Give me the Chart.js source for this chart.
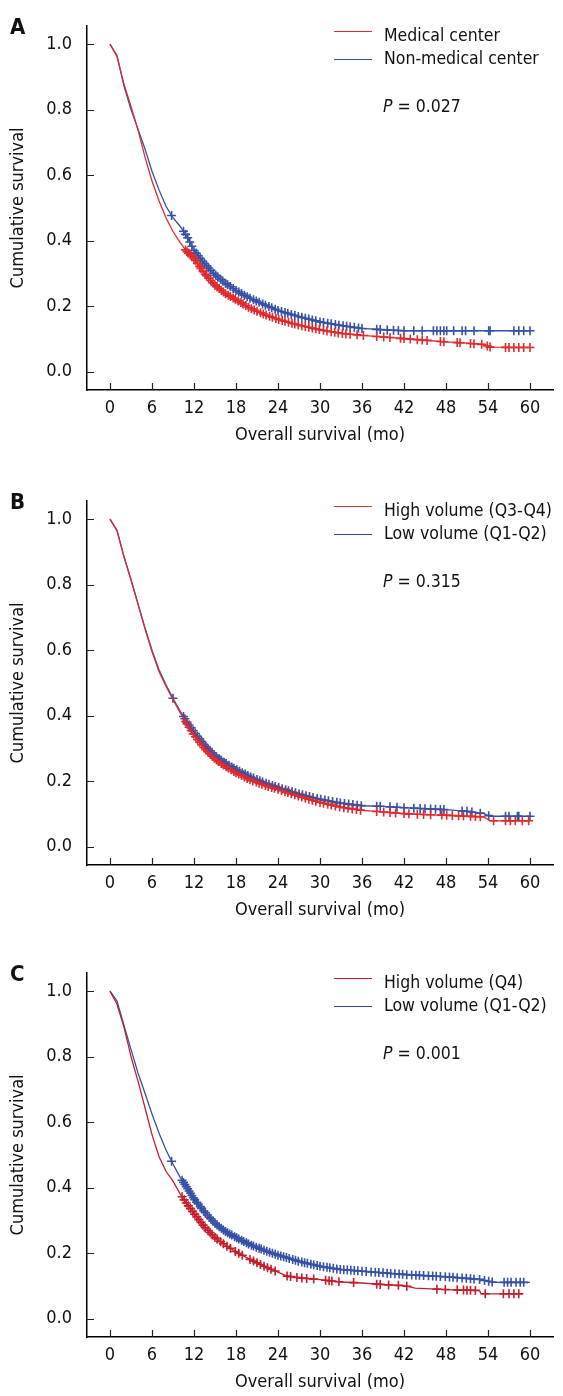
<!DOCTYPE html>
<html>
<head>
<meta charset="utf-8">
<script src="https://cdn.jsdelivr.net/npm/chart.js@4.4.1/dist/chart.umd.min.js"></script>
<style>
body { margin: 0; background: #fff; width: 563px; height: 1396px; overflow: hidden;
       font-family: "DejaVu Sans Condensed", "DejaVu Sans", sans-serif; color: #111; }
.panel { position: absolute; left: 0; width: 563px; }
.panel canvas { position: absolute; left: 0; top: 0; }
.letter { position: absolute; left: 10px; top: 16px; font-size: 22px; line-height: 22px; font-weight: bold; }
.key { position: absolute; left: 334px; width: 38px; height: 0; border-top: 1px solid; }
.lab { position: absolute; left: 384px; font-size: 17.5px; line-height: 20px; white-space: nowrap; }
</style>
</head>
<body>

<div class="panel" id="pA" style="top:0;height:475px">
  <canvas id="cA" width="563" height="475"></canvas>
  <div class="letter">A</div>
  <div class="key" style="top:31px;border-color:#e02a2e"></div>
  <div class="key" style="top:59px;border-color:#3651a5"></div>
  <div class="lab" style="top:25px">Medical center</div>
  <div class="lab" style="top:48px">Non-medical center</div>
  <div class="lab" style="top:96px;left:383px"><i>P</i> = 0.027</div>
</div>

<div class="panel" id="pB" style="top:475px;height:472px">
  <canvas id="cB" width="563" height="472"></canvas>
  <div class="letter">B</div>
  <div class="key" style="top:31px;border-color:#e02a2e"></div>
  <div class="key" style="top:59px;border-color:#3651a5"></div>
  <div class="lab" style="top:25px">High volume (Q3-Q4)</div>
  <div class="lab" style="top:48px">Low volume (Q1-Q2)</div>
  <div class="lab" style="top:96px;left:383px"><i>P</i> = 0.315</div>
</div>

<div class="panel" id="pC" style="top:947px;height:449px">
  <canvas id="cC" width="563" height="449"></canvas>
  <div class="letter">C</div>
  <div class="key" style="top:31px;border-color:#c41e2c"></div>
  <div class="key" style="top:59px;border-color:#3651a5"></div>
  <div class="lab" style="top:25px">High volume (Q4)</div>
  <div class="lab" style="top:48px">Low volume (Q1-Q2)</div>
  <div class="lab" style="top:96px;left:383px"><i>P</i> = 0.001</div>
</div>

<script>
// axis ticks
var xTicks = [0, 6, 12, 18, 24, 30, 36, 42, 48, 54, 60];
var yTicks = [0, 0.2, 0.4, 0.6, 0.8, 1.0];

// panel A: medical vs non-medical center
var timeA = [0, 1, 2, 3, 4, 5, 6, 7, 8, 9, 10, 11, 12, 13.5, 15, 16.5, 18, 20, 22, 24, 27, 30, 33, 36, 39, 42, 45, 48, 51, 53.4, 54.3, 57, 60];
var medicalA = [1.0, .962, .878, .81, .738, .655, .582, .522, .47, .428, .395, .366, .346, .30, .264, .238, .22, .194, .175, .16, .142, .128, .117, .111, .106, .101, .096, .091, .087, .083, .075, .074, .074];
var nonMedicalA = [1.0, .965, .872, .80, .74, .68, .612, .555, .505, .47, .444, .413, .37, .33, .296, .27, .248, .224, .205, .187, .168, .152, .141, .132, .128, .125, .125, .125, .125, .125, .125, .125, .125];
var medicalCensA = [10.8, 11.0, 11.2, 11.5, 11.7, 12.0, 12.2, 12.5, 12.8, 13.0, 13.3, 13.6, 13.8, 14.1, 14.4, 14.7, 15.0, 15.3, 15.6, 15.9, 16.2, 16.5, 16.9, 17.2, 17.6, 17.9, 18.3, 18.7, 19.0, 19.4, 19.8, 20.2, 20.6, 21.0, 21.5, 21.9, 22.3, 22.8, 23.2, 23.7, 24.1, 24.6, 25.0, 25.5, 26.0, 26.4, 26.9, 27.4, 27.9, 28.4, 28.9, 29.4, 29.9, 30.5, 31.0, 31.6, 32.1, 32.6, 33.2, 33.7, 34.3, 35.3, 36.2, 38.1, 39.1, 40.0, 41.5, 42.0, 42.9, 43.9, 44.6, 45.3, 47.2, 47.7, 49.6, 50.0, 51.5, 52.0, 53.1, 53.9, 54.3, 56.5, 57.0, 57.7, 58.4, 59.1, 60.0];
var nonMedicalCensA = [8.8, 10.5, 10.8, 11.1, 11.4, 11.7, 12.0, 12.3, 12.6, 12.9, 13.2, 13.5, 13.8, 14.1, 14.4, 14.8, 15.1, 15.4, 15.8, 16.1, 16.5, 16.8, 17.2, 17.6, 18.0, 18.4, 18.8, 19.2, 19.6, 20.0, 20.5, 20.9, 21.3, 21.8, 22.2, 22.7, 23.1, 23.6, 24.0, 24.5, 25.0, 25.4, 25.9, 26.4, 26.9, 27.4, 27.9, 28.4, 28.9, 29.4, 30.0, 30.5, 31.1, 31.6, 32.2, 32.7, 33.3, 33.8, 34.3, 34.9, 35.5, 36.0, 38.1, 38.6, 39.6, 40.5, 41.2, 42.0, 43.4, 44.6, 46.2, 46.7, 47.2, 47.7, 48.1, 49.1, 50.3, 50.8, 52.0, 54.1, 54.3, 57.7, 58.4, 59.1, 60.0];

// panel B: high (Q3-Q4) vs low (Q1-Q2) volume
var timeB = [0, 1, 2, 3, 4, 5, 6, 7, 8, 9, 10, 11, 12, 13.5, 15, 16.5, 18, 20, 22, 24, 27, 30, 33, 36, 39, 42, 45, 48, 51, 53.4, 54.3, 57, 60];
var highB = [1.0, .965, .885, .815, .74, .665, .595, .535, .49, .449, .41, .375, .341, .30, .268, .245, .226, .204, .188, .175, .154, .135, .12, .111, .106, .101, .098, .096, .093, .091, .079, .079, .079];
var lowB = [1.0, .965, .885, .815, .742, .668, .60, .54, .494, .453, .415, .38, .351, .31, .278, .255, .236, .214, .196, .181, .161, .145, .133, .125, .123, .119, .116, .113, .108, .101, .093, .093, .093];
var highCensB = [10.8, 11.0, 11.3, 11.6, 11.9, 12.2, 12.5, 12.8, 13.1, 13.4, 13.7, 14.0, 14.3, 14.6, 14.9, 15.2, 15.5, 15.9, 16.2, 16.6, 16.9, 17.3, 17.7, 18.0, 18.4, 18.8, 19.2, 19.6, 20.0, 20.4, 20.9, 21.3, 21.7, 22.2, 22.6, 23.1, 23.5, 24.0, 24.5, 25.0, 25.4, 25.9, 26.4, 26.9, 27.4, 27.9, 28.4, 28.9, 29.4, 30.0, 30.5, 31.1, 31.6, 32.2, 32.8, 33.4, 34.0, 34.6, 35.2, 35.8, 38.1, 39.1, 40.0, 40.8, 42.0, 42.7, 43.9, 44.8, 45.8, 47.4, 48.1, 48.9, 49.8, 50.5, 51.5, 52.2, 52.9, 54.8, 56.5, 57.2, 57.9, 58.9, 59.8];
var lowCensB = [9.0, 10.5, 10.7, 11.0, 11.3, 11.6, 11.9, 12.2, 12.5, 12.8, 13.1, 13.4, 13.7, 14.0, 14.3, 14.6, 14.9, 15.2, 15.6, 15.9, 16.3, 16.6, 17.0, 17.4, 17.7, 18.1, 18.5, 18.9, 19.3, 19.7, 20.1, 20.5, 21.0, 21.4, 21.8, 22.3, 22.7, 23.2, 23.6, 24.1, 24.6, 25.1, 25.5, 26.0, 26.5, 27.0, 27.5, 28.0, 28.5, 29.0, 29.6, 30.1, 30.7, 31.2, 31.8, 32.4, 32.9, 33.5, 34.1, 34.7, 35.3, 35.9, 38.1, 38.6, 40.0, 41.0, 42.0, 43.4, 44.3, 45.0, 45.8, 46.5, 47.2, 47.7, 50.3, 51.0, 51.7, 52.9, 54.1, 56.5, 57.0, 58.2, 58.4, 60.0];

// panel C: high (Q4) vs low (Q1-Q2) volume
var timeC = [0, 1, 2, 3, 4, 5, 6, 7, 8, 9, 10, 11, 12, 13.5, 15, 16.5, 18, 20, 22, 24, 25.3, 27, 30, 33, 36, 39, 42, 43.6, 48, 52.8, 53, 54.8, 57, 59, 60];
var highC = [1.0, .96, .89, .80, .725, .644, .562, .495, .45, .42, .382, .35, .322, .28, .248, .224, .204, .181, .16, .142, .13, .125, .119, .112, .109, .104, .101, .093, .089, .086, .076, .076, .076, .076, null];
var lowC = [1.0, .97, .895, .822, .75, .688, .625, .567, .515, .472, .432, .40, .366, .326, .291, .266, .248, .226, .209, .194, .186, .175, .16, .15, .145, .14, .135, .133, .128, .12, .119, .111, .111, .111, .111];
var highCensC = [10.3, 10.6, 10.9, 11.2, 11.5, 11.8, 12.1, 12.4, 12.7, 13.0, 13.3, 13.6, 14.0, 14.3, 14.6, 15.0, 15.3, 15.8, 16.2, 16.7, 17.2, 17.9, 18.4, 18.9, 20.0, 20.5, 21.0, 21.5, 22.0, 22.5, 23.0, 23.6, 25.3, 25.8, 26.7, 27.4, 28.1, 29.1, 30.8, 31.3, 31.7, 32.7, 34.8, 38.1, 38.6, 39.8, 41.2, 42.4, 46.7, 47.9, 49.6, 50.5, 51.0, 51.5, 52.2, 53.6, 56.2, 57.0, 57.7, 58.4];
var lowCensC = [8.8, 10.3, 10.5, 10.7, 10.9, 11.1, 11.3, 11.5, 11.7, 11.9, 12.1, 12.4, 12.6, 12.9, 13.1, 13.4, 13.6, 13.9, 14.2, 14.4, 14.7, 15.0, 15.3, 15.6, 15.9, 16.2, 16.5, 16.8, 17.1, 17.4, 17.8, 18.1, 18.4, 18.8, 19.1, 19.5, 19.8, 20.2, 20.5, 20.9, 21.3, 21.6, 22.0, 22.4, 22.8, 23.2, 23.6, 24.0, 24.4, 24.8, 25.2, 25.6, 26.1, 26.5, 26.9, 27.4, 27.8, 28.2, 28.7, 29.1, 29.6, 30.0, 30.5, 31.0, 31.4, 31.9, 32.4, 32.9, 33.4, 33.9, 34.4, 34.9, 35.4, 36.0, 36.6, 37.3, 37.9, 38.4, 39.0, 39.6, 40.1, 40.7, 41.3, 41.8, 42.4, 43.1, 43.7, 44.2, 44.8, 45.5, 46.1, 46.6, 47.2, 47.9, 48.5, 49.0, 49.6, 50.3, 50.9, 51.5, 52.0, 52.8, 53.5, 54.1, 54.6, 56.3, 56.8, 57.3, 58.0, 58.6, 59.1];

var FONT = "'DejaVu Sans Condensed', 'DejaVu Sans', sans-serif";
var RED = '#e02a2e', DARKRED = '#c41e2c', BLUE = '#3651a5';

// t=0 at 110px, t=60 at 530px ; axis from 87 to 553
var X_MIN = -23 / 7, X_MAX = 443 / 7;
// S=1 at 31px, S=0 at 371px ; axis from 12 to 390
var Y_MIN = -19 / 340, Y_MAX = 359 / 340;

function curvePoints(times, vals) {
    var pts = [];
    for (var i = 0; i < times.length; i++) {
        if (vals[i] !== null) pts.push({x: times[i], y: vals[i]});
    }
    return pts;
}

// place each censor mark on its curve
function censorPoints(cens, times, vals) {
    var pts = curvePoints(times, vals);
    return cens.map(function (t) {
        for (var i = 1; i < pts.length; i++) {
            if (t <= pts[i].x) {
                var a = pts[i - 1], b = pts[i];
                return {x: t, y: a.y + (b.y - a.y) * (t - a.x) / (b.x - a.x)};
            }
        }
        return {x: t, y: pts[pts.length - 1].y};
    });
}

var innerTicks = {
    id: 'innerTicks',
    afterDatasetsDraw: function (chart) {
        var ctx = chart.ctx, area = chart.chartArea;
        var x = chart.scales.x, y = chart.scales.y;
        ctx.save();
        ctx.strokeStyle = '#222';
        ctx.lineWidth = 1.2;
        ctx.beginPath();
        xTicks.forEach(function (v) {
            var px = Math.round(x.getPixelForValue(v)) + 0.5;
            ctx.moveTo(px, area.bottom);
            ctx.lineTo(px, area.bottom - 7);
        });
        yTicks.forEach(function (v) {
            var py = Math.round(y.getPixelForValue(v)) + 0.5;
            ctx.moveTo(area.left, py);
            ctx.lineTo(area.left + 7, py);
        });
        ctx.stroke();
        ctx.restore();
    }
};

function drawPanel(id, height, times, redVals, blueVals, redCens, blueCens, redColor) {
    var ds = [
        {data: curvePoints(times, redVals), borderColor: redColor, borderWidth: 1.3, showLine: true, pointRadius: 0, tension: 0},
        {data: curvePoints(times, blueVals), borderColor: BLUE, borderWidth: 1.3, showLine: true, pointRadius: 0, tension: 0},
        {data: censorPoints(redCens, times, redVals), borderColor: redColor, pointStyle: 'cross', pointRadius: 4.5, pointBorderWidth: 1.6, showLine: false},
        {data: censorPoints(blueCens, times, blueVals), borderColor: BLUE, pointStyle: 'cross', pointRadius: 4.5, pointBorderWidth: 1.6, showLine: false}
    ];
    new Chart(document.getElementById(id), {
        type: 'scatter',
        data: {datasets: ds},
        options: {
            responsive: false,
            animation: false,
            events: [],
            layout: {padding: {top: 12, right: 10, left: 0, bottom: 0}},
            plugins: {legend: {display: false}, tooltip: {enabled: false}},
            scales: {
                x: {
                    type: 'linear', min: X_MIN, max: X_MAX,
                    afterBuildTicks: function (s) { s.ticks = xTicks.map(function (v) { return {value: v}; }); },
                    afterFit: function (s) { s.height = height - 390; },
                    grid: {display: false, drawTicks: false},
                    border: {display: true, color: '#000', width: 1.5},
                    ticks: {padding: 8, color: '#111', font: {family: FONT, size: 18}, maxRotation: 0,
                            callback: function (v) { return String(v); }},
                    title: {display: true, text: 'Overall survival (mo)', color: '#111',
                            font: {family: FONT, size: 18}, padding: {top: 0, bottom: height - 435 - 10.8}}
                },
                y: {
                    type: 'linear', min: Y_MIN, max: Y_MAX,
                    afterBuildTicks: function (s) { s.ticks = yTicks.map(function (v) { return {value: v}; }); },
                    afterFit: function (s) { s.width = 87; },
                    grid: {display: false, drawTicks: false},
                    border: {display: true, color: '#000', width: 1.5},
                    ticks: {padding: 15, color: '#111', font: {family: FONT, size: 18},
                            callback: function (v) { return v.toFixed(1); }},
                    title: {display: true, text: 'Cumulative survival', color: '#111',
                            font: {family: FONT, size: 18}, padding: {top: 8, bottom: 0}}
                }
            }
        },
        plugins: [innerTicks]
    });
}

drawPanel('cA', 475, timeA, medicalA, nonMedicalA, medicalCensA, nonMedicalCensA, RED);
drawPanel('cB', 472, timeB, highB, lowB, highCensB, lowCensB, RED);
drawPanel('cC', 449, timeC, highC, lowC, highCensC, lowCensC, DARKRED);
</script>
</body>
</html>
